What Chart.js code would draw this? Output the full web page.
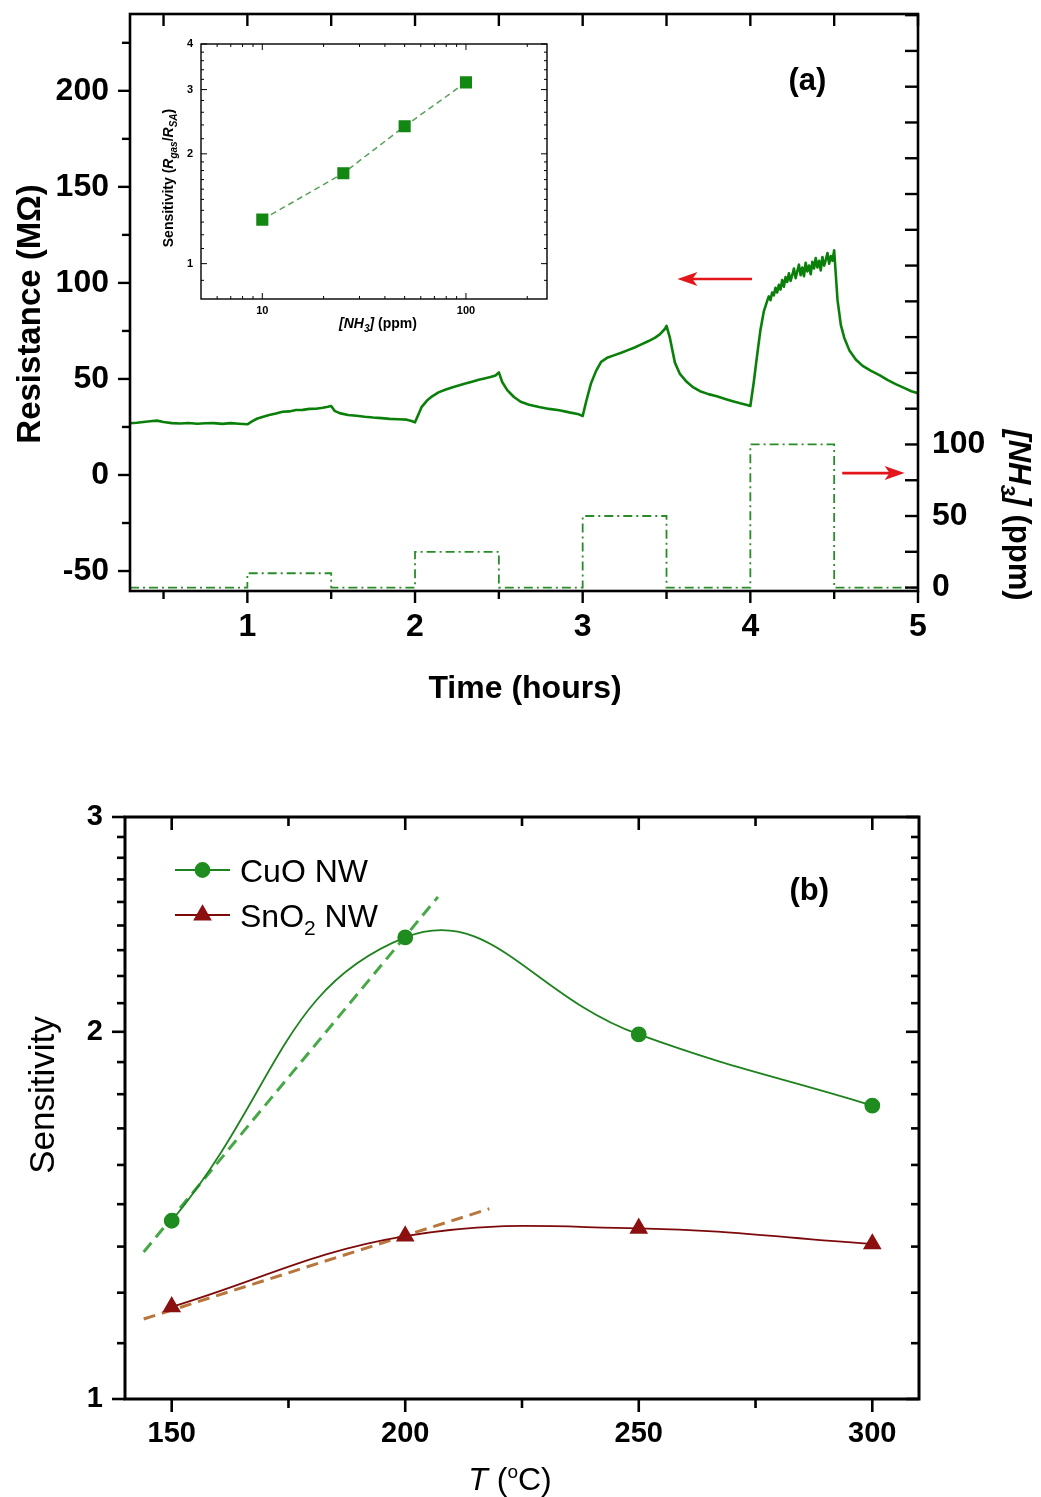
<!DOCTYPE html>
<html>
<head>
<meta charset="utf-8">
<script src="https://cdn.jsdelivr.net/npm/chart.js@4.4.0/dist/chart.umd.min.js"></script>
<style>
  body { margin: 0; background: #fff; }
  #wrap { position: relative; width: 1041px; height: 1497px; }
  canvas { position: absolute; }
</style>
</head>
<body>
<div id="wrap">
  <canvas id="topChart" width="1041" height="720" style="left:0;top:0"></canvas>
  <canvas id="insetChart" width="410" height="305" style="left:150px;top:30px"></canvas>
  <canvas id="bottomChart" width="1041" height="777" style="left:0;top:720px"></canvas>
</div>
<script>
const FONT = "'Liberation Sans', Arial, sans-serif";
const RED = "#e3161b";

// ===== panel (a): resistance trace =====
const timeHours = [
  0.30, 0.34, 0.38, 0.42, 0.46, 0.50, 0.55, 0.60, 0.65, 0.70, 0.75, 0.80, 0.85, 0.90, 0.95, 1.00,
  1.03, 1.06, 1.09, 1.13, 1.17, 1.21, 1.25, 1.29, 1.33, 1.37, 1.41, 1.45, 1.48, 1.50,
  1.52, 1.55, 1.60, 1.65, 1.70, 1.75, 1.80, 1.85, 1.90, 1.95, 1.98, 2.00,
  2.02, 2.04, 2.07, 2.10, 2.14, 2.18, 2.22, 2.26, 2.30, 2.34, 2.38, 2.42, 2.45, 2.48, 2.50,
  2.52, 2.55, 2.59, 2.63, 2.68, 2.74, 2.80, 2.86, 2.92, 2.97, 3.00,
  3.02, 3.05, 3.08, 3.11, 3.15, 3.19, 3.23, 3.27, 3.31, 3.35, 3.39, 3.43, 3.46, 3.49, 3.50,
  3.52, 3.55, 3.58, 3.62, 3.66, 3.70, 3.75, 3.80, 3.85, 3.90, 3.94, 3.98, 4.00,
  4.02, 4.04, 4.06, 4.08, 4.10, 4.11, 4.12, 4.13, 4.14, 4.15, 4.16, 4.17, 4.18, 4.19, 4.20,
  4.21, 4.22, 4.23, 4.24, 4.25, 4.26, 4.27, 4.28, 4.29, 4.30, 4.31, 4.32, 4.33, 4.34, 4.35,
  4.36, 4.37, 4.38, 4.39, 4.40, 4.41, 4.42, 4.43, 4.44, 4.45, 4.46, 4.47, 4.48, 4.49, 4.50,
  4.51, 4.52, 4.54, 4.56, 4.59, 4.63, 4.67, 4.72, 4.77, 4.82, 4.87, 4.92, 4.96, 5.00
];
const resistance = [
  26.9, 27.2, 27.6, 28.0, 28.3, 27.6, 27.0, 26.8, 27.1, 26.7, 26.9, 27.0, 26.6, 27.0, 26.7, 26.4,
  28.0, 29.4, 30.2, 31.2, 32.0, 32.9, 33.1, 33.8, 33.9, 34.4, 34.5, 35.0, 35.5, 35.9,
  33.4, 32.2, 31.2, 30.8, 30.3, 29.9, 29.6, 29.2, 29.0, 28.8, 28.1, 27.4,
  31.5, 35.5, 38.6, 40.8, 43.0, 44.4, 45.6, 46.6, 47.6, 48.6, 49.6, 50.4, 51.0, 51.8, 53.4,
  48.4, 44.2, 40.6, 38.1, 36.6, 35.4, 34.4, 33.7, 32.6, 31.8, 30.7,
  38.0, 47.8, 54.2, 58.9, 61.2, 62.4, 63.6, 65.0, 66.4, 68.0, 69.6, 71.4, 73.2, 76.0, 77.6,
  71.5, 58.5, 52.6, 48.5, 45.6, 43.6, 42.1, 41.0, 39.6, 38.3, 37.3, 36.4, 35.9,
  48.0, 62.0, 75.4, 85.0, 90.5, 93.0, 91.0, 95.0, 93.5, 97.5, 95.0, 99.0, 96.5, 101.5, 98.0,
  103.0, 100.5, 105.0, 101.0, 104.0, 107.5, 102.5, 106.0, 109.5, 104.0, 108.0, 103.5, 110.5, 106.0, 109.0,
  104.5, 111.0, 107.5, 113.0, 108.0, 111.5, 106.5, 113.5, 109.0, 112.0, 115.5, 110.0, 114.0, 111.5, 117.0,
  104.0, 91.0, 78.0, 71.5, 65.0, 60.0, 56.8, 54.2, 52.0, 49.4, 47.2, 45.2, 43.6, 42.6
];

// NH3 pulses (ppm)
const pulseStart = [1, 2, 3, 4];
const pulseEnd = [1.5, 2.5, 3.5, 4.5];
const pulseLevel = [10, 25, 50, 100];

// panel (a) axis ticks
const timeTicks = [1, 2, 3, 4, 5];
const timeMinor = [0.5, 1.5, 2.5, 3.5, 4.5];
const resTicks = [-50, 0, 50, 100, 150, 200];
const resMinor = [-25, 25, 75, 125, 175, 225];
const ppmTicks = [0, 50, 100];
const ppmAllTicks = [0, 25, 50, 75, 100, 125, 150, 175, 200, 225, 250, 275, 300, 325, 350, 375, 400];

// ===== inset: sensitivity vs concentration =====
const insetConc = [10, 25, 50, 100];
const insetSens = [1.32, 1.77, 2.38, 3.14];
const insetXTicks = [10, 100];
const insetXMinor = [6, 7, 8, 9, 20, 30, 40, 50, 60, 70, 80, 90, 200];
const insetYTicks = [1, 2, 3, 4];
const insetYMinor = [0.9, 1.1, 1.2, 1.3, 1.4, 1.5, 1.6, 1.7, 1.8, 1.9, 2.2, 2.4, 2.6, 2.8, 3.2, 3.4, 3.6, 3.8];

// ===== panel (b): sensitivity vs temperature =====
const tempC = [150, 200, 250, 300];
const cuoSens = [1.40, 2.39, 1.99, 1.74];
const snoSens = [1.19, 1.36, 1.38, 1.34];
const cuoFitT = [144, 207];
const cuoFitS = [1.32, 2.58];
const snoFitT = [144, 218];
const snoFitS = [1.163, 1.432];
const tempTicks = [150, 200, 250, 300];
const tempAll = [150, 175, 200, 225, 250, 275, 300];
const sensTicks = [1, 2, 3];
const sensAll = [];
for (let d = 1; d < 3; d++) {
  for (let k = 0; k < 9; k++) sensAll.push(d + k / 9);
}
sensAll.push(3);

const pts = (xs, ys) => xs.map((x, i) => ({ x: x, y: ys[i] }));

function run(t, size, style, dy) {
  return { t: t, size: size, dy: dy || 0, font: (style || "") + " " + size + "px " + FONT };
}

function richText(ctx, runs, x, y, rot, align) {
  ctx.save();
  ctx.translate(x, y);
  ctx.rotate(rot || 0);
  ctx.textAlign = "left";
  ctx.textBaseline = "alphabetic";
  ctx.fillStyle = "#000";
  let total = 0;
  const widths = runs.map(r => {
    ctx.font = r.font;
    const w = ctx.measureText(r.t).width;
    total += w;
    return w;
  });
  let cx = align === "left" ? 0 : -total / 2;
  const base = runs[0].size * 0.36;
  runs.forEach((r, i) => {
    ctx.font = r.font;
    ctx.fillText(r.t, cx, base + r.dy);
    cx += widths[i];
  });
  ctx.restore();
}

// ===== plot frame + ticks (inward / outward like the original) =====
const framePlugin = {
  id: "frame",
  afterDraw(chart, args, opts) {
    if (!opts.lineWidth) return;
    const ctx = chart.ctx;
    const a = chart.chartArea;
    ctx.save();
    ctx.strokeStyle = "#000";
    (opts.ticks || []).forEach(t => {
      const sc = chart.scales[t.scale];
      ctx.lineWidth = t.width;
      t.values.forEach(v => {
        const len = t.major.includes(v) ? t.majorLen : t.len;
        const p = sc.getPixelForValue(v);
        ctx.beginPath();
        if (t.edge === "bottom") { ctx.moveTo(p, a.bottom); ctx.lineTo(p, a.bottom + len * t.dir); }
        if (t.edge === "top") { ctx.moveTo(p, a.top); ctx.lineTo(p, a.top + len * t.dir); }
        if (t.edge === "left") { ctx.moveTo(a.left, p); ctx.lineTo(a.left + len * t.dir, p); }
        if (t.edge === "right") { ctx.moveTo(a.right, p); ctx.lineTo(a.right + len * t.dir, p); }
        ctx.stroke();
      });
    });
    ctx.lineWidth = opts.lineWidth;
    ctx.lineJoin = "miter";
    ctx.strokeRect(a.left, a.top, a.width, a.height);
    ctx.restore();
  }
};

// ===== labels, titles, arrows, legend =====
const notesPlugin = {
  id: "notes",
  afterDraw(chart, args, opts) {
    const ctx = chart.ctx;
    (opts.items || []).forEach(it => {
      if (it.type === "text") {
        let x = it.px, y = it.py;
        if (it.xScale) {
          x = chart.scales[it.xScale].getPixelForValue(it.x);
          y = chart.scales[it.yScale].getPixelForValue(it.y);
        }
        richText(ctx, it.runs, x, y, it.rot, it.align);
      } else if (it.type === "arrow") {
        const sx = chart.scales[it.xScale], sy = chart.scales[it.yScale];
        const y = sy.getPixelForValue(it.y);
        const xa = sx.getPixelForValue(it.x0), xb = sx.getPixelForValue(it.x1);
        const dir = Math.sign(xb - xa);
        ctx.save();
        ctx.strokeStyle = it.color;
        ctx.fillStyle = it.color;
        ctx.lineWidth = 2.6;
        ctx.beginPath();
        ctx.moveTo(xa, y);
        ctx.lineTo(xb - dir * 14, y);
        ctx.stroke();
        ctx.beginPath();
        ctx.moveTo(xb, y);
        ctx.lineTo(xb - dir * 20, y - 7);
        ctx.lineTo(xb - dir * 15, y);
        ctx.lineTo(xb - dir * 20, y + 7);
        ctx.closePath();
        ctx.fill();
        ctx.restore();
      } else if (it.type === "legend") {
        const ds = chart.data.datasets[it.ds];
        ctx.save();
        ctx.strokeStyle = ds.borderColor;
        ctx.lineWidth = ds.borderWidth;
        ctx.beginPath();
        ctx.moveTo(it.x0, it.py);
        ctx.lineTo(it.x1, it.py);
        ctx.stroke();
        ctx.fillStyle = ds.pointBackgroundColor;
        ctx.strokeStyle = ds.pointBorderColor;
        Chart.helpers.drawPoint(ctx, {
          pointStyle: ds.pointStyle, radius: ds.pointRadius, rotation: 0, borderWidth: 1
        }, (it.x0 + it.x1) / 2, it.py);
        ctx.restore();
        richText(ctx, it.runs, it.tx, it.py, 0, "left");
      }
    });
  }
};

Chart.register(framePlugin, notesPlugin);

function fixedScale(extra) {
  return Object.assign({
    grid: { display: false, drawTicks: false },
    border: { display: false },
    ticks: { color: "#000" }
  }, extra);
}
const setTicks = list => s => { s.ticks = list.map(v => ({ value: v })); };
// fixed box size, and no extra label overhang so the plot area sits where the original has it
const fitBox = (key, size) => s => {
  s[key] = size;
  s.paddingTop = 0;
  s.paddingBottom = 0;
  s.paddingLeft = 0;
  s.paddingRight = 0;
};

// ===== panel (a) chart =====
const pulseData = [{ x: 0.3, y: 0 }];
pulseStart.forEach((s, i) => {
  pulseData.push({ x: s, y: 0 }, { x: s, y: pulseLevel[i] }, { x: pulseEnd[i], y: pulseLevel[i] }, { x: pulseEnd[i], y: 0 });
});
pulseData.push({ x: 5, y: 0 });

const fontA = { family: FONT, size: 32, weight: "bold" };

new Chart(document.getElementById("topChart"), {
  type: "line",
  data: {
    datasets: [
      {
        data: pts(timeHours, resistance),
        borderColor: "rgb(10,128,10)",
        borderWidth: 2.6,
        pointRadius: 0,
        tension: 0,
        borderJoinStyle: "round",
        yAxisID: "y"
      },
      {
        data: pulseData,
        borderColor: "rgb(40,140,40)",
        borderWidth: 1.8,
        borderDash: [9, 4, 2, 4],
        pointRadius: 0,
        tension: 0,
        yAxisID: "y2"
      }
    ]
  },
  options: {
    responsive: false,
    animation: false,
    layout: { padding: { top: 14, left: 0, right: 0, bottom: 0 } },
    plugins: {
      legend: { display: false },
      tooltip: { enabled: false },
      frame: {
        lineWidth: 2.6,
        ticks: [
          { scale: "x", edge: "bottom", dir: 1, values: timeTicks.concat(timeMinor), major: timeTicks, majorLen: 12, len: 8, width: 2.4 },
          { scale: "x", edge: "top", dir: 1, values: timeTicks.concat(timeMinor), major: timeTicks, majorLen: 12, len: 12, width: 2.4 },
          { scale: "y", edge: "left", dir: -1, values: resTicks.concat(resMinor), major: resTicks, majorLen: 12, len: 8, width: 2.4 },
          { scale: "y2", edge: "right", dir: -1, values: ppmAllTicks, major: ppmTicks, majorLen: 13, len: 13, width: 2.4 }
        ]
      },
      notes: {
        items: [
          { type: "text", xScale: "x", yScale: "y", x: 4.34, y: 206, runs: [run("(a)", 31, "bold")] },
          { type: "arrow", xScale: "x", yScale: "y", x0: 4.01, x1: 3.565, y: 102, color: RED },
          { type: "arrow", xScale: "x", yScale: "y2", x0: 4.548, x1: 4.92, y: 80, color: RED },
          { type: "text", px: 28, py: 314, rot: -Math.PI / 2, runs: [run("Resistance (M\u03A9)", 33, "bold")] },
          { type: "text", px: 525, py: 686, runs: [run("Time (hours)", 32, "bold")] },
          {
            type: "text", px: 1020, py: 515, rot: Math.PI / 2,
            runs: [run("[NH", 31, "italic bold"), run("3", 20, "italic bold", 8), run("]", 31, "italic bold"), run(" (ppm)", 31, "bold")]
          }
        ]
      }
    },
    scales: {
      x: fixedScale({
        type: "linear", position: "bottom", min: 0.3, max: 5,
        ticks: { color: "#000", font: fontA, padding: 17, callback: v => String(v) },
        afterBuildTicks: setTicks(timeTicks),
        afterFit: fitBox("height", 129)
      }),
      y: fixedScale({
        type: "linear", position: "left", min: -60.4, max: 240,
        ticks: { color: "#000", font: fontA, padding: 21, callback: v => String(v) },
        afterBuildTicks: setTicks(resTicks),
        afterFit: fitBox("width", 130)
      }),
      y2: fixedScale({
        type: "linear", position: "right", min: -2.4, max: 400.8,
        ticks: { color: "#000", font: fontA, padding: 14, callback: v => String(v) },
        afterBuildTicks: setTicks(ppmTicks),
        afterFit: fitBox("width", 123)
      })
    }
  }
});

// ===== inset chart =====
const fontIn = { family: FONT, size: 11, weight: "bold" };

new Chart(document.getElementById("insetChart"), {
  type: "line",
  data: {
    datasets: [{
      data: pts(insetConc, insetSens),
      borderColor: "rgb(90,160,90)",
      borderWidth: 1.5,
      borderDash: [6, 4],
      pointStyle: "rect",
      pointRadius: 7.5,
      pointBackgroundColor: "rgb(18,135,18)",
      pointBorderColor: "rgb(18,135,18)",
      tension: 0
    }]
  },
  options: {
    responsive: false,
    animation: false,
    layout: { padding: { top: 14, right: 13, left: 0, bottom: 0 } },
    plugins: {
      legend: { display: false },
      tooltip: { enabled: false },
      frame: {
        lineWidth: 1.4,
        ticks: [
          { scale: "x", edge: "bottom", dir: -1, values: insetXTicks.concat(insetXMinor), major: insetXTicks, majorLen: 6, len: 3, width: 1 },
          { scale: "x", edge: "top", dir: 1, values: insetXTicks.concat(insetXMinor), major: insetXTicks, majorLen: 6, len: 3, width: 1 },
          { scale: "y", edge: "left", dir: 1, values: insetYTicks.concat(insetYMinor), major: insetYTicks, majorLen: 6, len: 3, width: 1 },
          { scale: "y", edge: "right", dir: -1, values: insetYTicks.concat(insetYMinor), major: insetYTicks, majorLen: 6, len: 3, width: 1 }
        ]
      },
      notes: {
        items: [
          {
            type: "text", px: 18, py: 148, rot: -Math.PI / 2,
            runs: [run("Sensitivity (", 14, "bold"), run("R", 14, "italic bold"), run("gas", 10, "italic bold", 4),
              run("/", 14, "bold"), run("R", 14, "italic bold"), run("SA", 10, "italic bold", 4), run(")", 14, "bold")]
          },
          {
            type: "text", px: 228, py: 293,
            runs: [run("[NH", 14, "italic bold"), run("3", 10, "italic bold", 4), run("]", 14, "italic bold"), run(" (ppm)", 14, "bold")]
          }
        ]
      }
    },
    scales: {
      x: fixedScale({
        type: "logarithmic", position: "bottom", min: 5, max: 250,
        ticks: { color: "#000", font: fontIn, padding: 5, callback: v => String(v) },
        afterBuildTicks: setTicks(insetXTicks),
        afterFit: fitBox("height", 36)
      }),
      y: fixedScale({
        type: "logarithmic", position: "left", min: 0.8, max: 4,
        ticks: { color: "#000", font: fontIn, padding: 8, callback: v => String(v) },
        afterBuildTicks: setTicks(insetYTicks),
        afterFit: fitBox("width", 51)
      })
    }
  }
});

// ===== panel (b) chart =====
const fontB = { family: FONT, size: 29, weight: "bold" };

new Chart(document.getElementById("bottomChart"), {
  type: "line",
  data: {
    datasets: [
      {
        data: pts(tempC, cuoSens),
        borderColor: "rgb(30,130,30)",
        borderWidth: 1.8,
        pointStyle: "circle",
        pointRadius: 7,
        pointBackgroundColor: "rgb(30,140,30)",
        pointBorderColor: "rgb(30,140,30)",
        tension: 0.45
      },
      {
        data: pts(tempC, snoSens),
        borderColor: "rgb(125,10,10)",
        borderWidth: 1.8,
        pointStyle: "triangle",
        pointRadius: 9,
        pointBackgroundColor: "rgb(140,16,16)",
        pointBorderColor: "rgb(140,16,16)",
        tension: 0.4
      },
      {
        data: pts(cuoFitT, cuoFitS),
        borderColor: "rgb(70,168,70)",
        borderWidth: 3,
        borderDash: [12, 7],
        pointRadius: 0,
        tension: 0
      },
      {
        data: pts(snoFitT, snoFitS),
        borderColor: "rgb(185,118,60)",
        borderWidth: 3,
        borderDash: [12, 7],
        pointRadius: 0,
        tension: 0
      }
    ]
  },
  options: {
    responsive: false,
    animation: false,
    layout: { padding: { top: 97, right: 122, left: 0, bottom: 0 } },
    plugins: {
      legend: { display: false },
      tooltip: { enabled: false },
      frame: {
        lineWidth: 3,
        ticks: [
          { scale: "x", edge: "bottom", dir: 1, values: tempAll, major: tempTicks, majorLen: 13, len: 9, width: 2.6 },
          { scale: "x", edge: "top", dir: 1, values: tempAll, major: tempTicks, majorLen: 13, len: 9, width: 2.6 },
          { scale: "y", edge: "left", dir: -1, values: sensAll, major: sensTicks, majorLen: 13, len: 8, width: 2.6 },
          { scale: "y", edge: "right", dir: -1, values: sensAll, major: sensTicks, majorLen: 13, len: 8, width: 2.6 }
        ]
      },
      notes: {
        items: [
          { type: "text", xScale: "x", yScale: "y", x: 286.5, y: 2.62, runs: [run("(b)", 31, "bold")] },
          { type: "legend", ds: 0, x0: 175, x1: 230, py: 150, tx: 240, runs: [run("CuO NW", 32)] },
          { type: "legend", ds: 1, x0: 175, x1: 230, py: 195, tx: 240, runs: [run("SnO", 32), run("2", 21, "", 8), run(" NW", 32)] },
          { type: "text", px: 41, py: 375, rot: -Math.PI / 2, runs: [run("Sensitivity", 35)] },
          { type: "text", px: 510, py: 758, runs: [run("T", 32, "italic"), run(" (", 32), run("o", 19, "", -12), run("C)", 32)] }
        ]
      }
    },
    scales: {
      x: fixedScale({
        type: "linear", position: "bottom", min: 140, max: 310,
        ticks: { color: "#000", font: fontB, padding: 18, callback: v => String(v) },
        afterBuildTicks: setTicks(tempTicks),
        afterFit: fitBox("height", 98)
      }),
      y: fixedScale({
        type: "logarithmic", position: "left", min: 1, max: 3,
        ticks: { color: "#000", font: fontB, padding: 22, callback: v => String(v) },
        afterBuildTicks: setTicks(sensTicks),
        afterFit: fitBox("width", 125)
      })
    }
  }
});
</script>
</body>
</html>
